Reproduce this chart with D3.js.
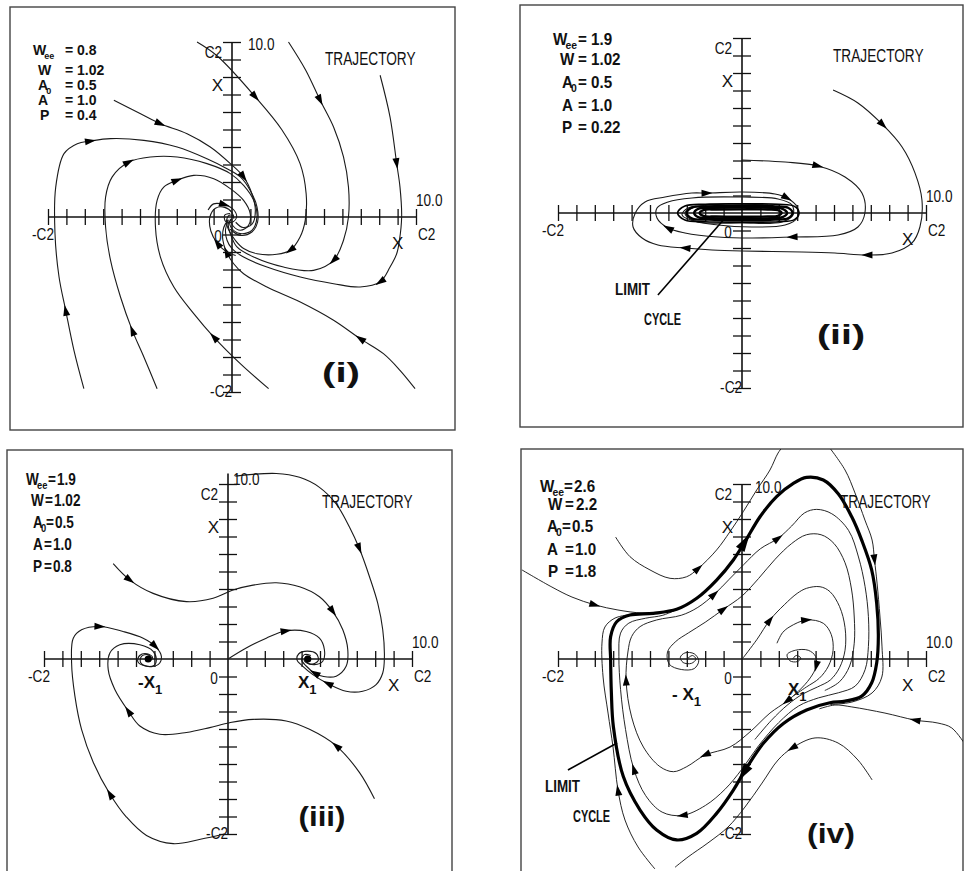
<!DOCTYPE html>
<html><head><meta charset="utf-8">
<script src="https://cdn.jsdelivr.net/npm/d3@7"></script>
<style>
html,body{margin:0;padding:0;background:#fff;}
svg{display:block;}
text{font-family:"Liberation Sans",Arial,sans-serif;fill:#111;}
</style></head><body>
<svg id="chart" width="965" height="871"></svg>
<script>
// ---- data -------------------------------------------------------------
const tickValues = d3.range(-10, 11).filter(d => d !== 0);
const axisLabels = ["10.0", "C2", "-C2", "X", "0"];
const paramNames = [["W", "ee"], ["W", ""], ["A", "0"], ["A", ""], ["P", ""]];
const paramsI = ["0.8", "1.02", "0.5", "1.0", "0.4"];
const paramsII = ["1.9", "1.02", "0.5", "1.0", "0.22"];
const paramsIII = ["1.9", "1.02", "0.5", "1.0", "0.8"];
const paramsIV = ["2.6", "2.2", "0.5", "1.0", "1.8"];
const panelTags = ["(i)", "(ii)", "(iii)", "(iv)"];
const trajLabel = "TRAJECTORY";
const cycleLabel = ["LIMIT", "CYCLE"];
const fociLabels = ["-X", "X"];

// (i) stable focus at the origin
const trajI = [
  {pts: [[-1.9,10.0],[-0.8,9.2],[1.27,6.86],[2.7,5.0],[3.7,3.05],[4.03,1.33],[3.98,-0.19],[3.7,-1.14],[3.16,-1.9],[2.44,-2.13],[1.36,-2.1],[0.63,-1.8],[0.18,-1.33],[-0.15,-0.8],[-0.3,-0.3],[-0.15,0.1],[0.1,0.05]], arrows: [2, 8]},
  {pts: [[3.07,10.0],[4.0,8.4],[4.79,6.67],[5.52,5.14],[6.06,3.43],[6.33,1.71],[6.33,0],[6.06,-1.33],[5.52,-2.48],[4.43,-3.05],[2.8,-2.86],[1.18,-2.29],[0.27,-1.71],[-0.09,-0.95],[-0.2,-0.4],[0,-0.1]], arrows: [2, 8]},
  {pts: [[8.05,8.1],[8.59,5.71],[8.95,3.05],[9.13,1.71],[9.22,0],[9.1,-1.33],[8.95,-2.1],[8.59,-2.86],[8.05,-3.71],[6.96,-4.0],[5.52,-3.81],[3.71,-3.43],[1.9,-2.86],[0.63,-2.29],[0,-1.81],[-0.27,-1.33],[-0.35,-0.7],[-0.2,-0.2]], arrows: [2, 8]},
  {pts: [[9.95,-9.81],[9.13,-8.76],[8.23,-7.81],[6.96,-6.95],[5.52,-5.9],[3.71,-4.86],[1.9,-4.0],[0.63,-3.24],[0.09,-2.67],[-0.3,-2.0],[-0.5,-1.3],[-0.45,-0.6],[-0.2,-0.15]], arrows: [3, 9]},
  {pts: [[1.99,-9.81],[0.45,-8.38],[-0.99,-6.86],[-2.08,-5.52],[-3.16,-4.0],[-3.89,-2.29],[-4.16,-0.57],[-4.07,0.95],[-3.71,1.71],[-2.98,2.1],[-2.08,2.38],[-0.99,2.19],[-0.09,1.62],[0.63,0.95],[0.99,0.19],[0.9,-0.48],[0.45,-0.76],[0.05,-0.5],[-0.1,-0.1]], arrows: [2, 9]},
  {pts: [[-4.07,-9.81],[-4.79,-8.0],[-5.42,-6.48],[-6.06,-4.57],[-6.6,-2.48],[-6.87,-0.57],[-6.87,1.14],[-6.51,2.29],[-5.61,3.14],[-4.43,3.43],[-2.98,3.43],[-1.36,3.05],[-0.09,2.48],[0.63,1.81],[1.18,0.95],[1.36,0],[1.08,-0.76],[0.45,-0.95],[-0.05,-0.6],[-0.15,-0.2]], arrows: [2, 8]},
  {pts: [[-8.05,-9.81],[-8.59,-7.62],[-9.04,-5.33],[-9.4,-3.43],[-9.62,-0.95],[-9.58,1.71],[-9.13,3.62],[-8.41,4.19],[-7.69,4.34],[-6.6,4.48],[-4.79,4.38],[-2.98,4.0],[-1.36,3.33],[-0.27,2.76],[0.45,2.29],[0.99,1.52],[1.36,0.57],[1.39,-0.29],[1.08,-0.86],[0.45,-1.05],[-0.1,-0.7]], arrows: [2, 8]},
  {pts: [[-6.42,6.67],[-4.97,5.9],[-3.89,5.33],[-2.44,4.76],[-1.18,4.0],[-0.09,3.05],[0.63,2.29],[1.08,1.33],[1.27,0.38],[1.1,-0.4],[0.6,-0.6],[0.2,-0.3]], arrows: [2, 6]},
  {pts: [[-1.3,0.4],[-1.0,0.75],[-0.4,0.7],[0.1,0.4],[0.25,0.0],[0.0,-0.3],[-0.35,-0.25],[-0.4,0.1],[-0.1,0.2]], arrows: [2]},
  {pts: [[0.2,-2.2],[-0.35,-1.95],[-0.8,-1.5],[-1.15,-0.8],[-1.2,0],[-0.9,0.5],[-0.4,0.55],[0,0.25],[0.1,-0.1]], arrows: [2]}
];

// (ii) trajectories winding onto a flat limit cycle
const trajII = [
  {pts: [[4.95,7.03],[6.3,6.29],[7.66,5.03],[8.7,3.77],[9.4,2.29],[9.78,0.74],[9.67,-0.8],[9.24,-1.71],[8.15,-2.29],[6.79,-2.4],[5.05,-2.29],[3.26,-2.23],[0,-2.17],[-1.63,-2.11],[-3.1,-2.0],[-4.57,-1.83],[-5.43,-1.43],[-5.92,-0.8],[-5.8,0],[-5.27,0.63],[-4.18,0.91],[-2.72,1.14],[-1.9,1.14],[0,1.2],[1.79,1.09],[2.45,0.86],[3.0,0.34],[3.0,-0.29],[2.34,-0.69],[0.54,-0.8],[-1.3,-0.69],[-2.72,-0.4],[-3.1,0],[-2.55,0.34],[-0.92,0.51],[1.41,0.46]], arrows: [2, 9, 14, 22, 25]},
  {pts: [[0,3.03],[2.34,2.91],[4.13,2.69],[5.6,2.06],[6.52,1.14],[6.68,0],[6.3,-0.8],[5.22,-1.26],[2.72,-1.37],[0.54,-1.43],[-1.3,-1.37],[-3.1,-1.14],[-4.02,-0.86],[-4.62,-0.29],[-4.62,0.29],[-4.02,0.63],[-2.72,0.86],[0,0.91],[1.96,0.8],[2.72,0.46],[2.77,-0.11],[2.17,-0.51],[0,-0.57],[-2.39,-0.51],[-3.26,-0.11],[-2.93,0.29],[-1.3,0.4],[1.0,0.38]], arrows: [2, 8, 12]}
];
const cycleII = [
  [[-3.5,0],[-3.1,0.4],[-2.0,0.5],[0,0.52],[2.0,0.5],[2.85,0.38],[3.1,0],[2.85,-0.38],[2.0,-0.5],[0,-0.52],[-2.0,-0.5],[-3.1,-0.4]],
  [[-3.0,0],[-2.7,0.32],[-1.8,0.38],[0,0.4],[1.8,0.38],[2.5,0.3],[2.75,0],[2.5,-0.3],[1.8,-0.38],[0,-0.4],[-1.8,-0.38],[-2.7,-0.32]],
  [[-2.6,0],[-2.35,0.25],[-1.6,0.3],[0,0.31],[1.6,0.3],[2.2,0.24],[2.45,0],[2.2,-0.24],[1.6,-0.3],[0,-0.31],[-1.6,-0.3],[-2.35,-0.25]],
  [[-2.3,0],[-2.1,0.17],[-1.4,0.2],[0,0.21],[1.4,0.2],[1.95,0.16],[2.15,0],[1.95,-0.16],[1.4,-0.2],[0,-0.21],[-1.4,-0.2],[-2.1,-0.17]]
];

// (iii) two stable foci at -X1 and X1
const fociIII = [[-4.34, 0], [4.34, 0]];
const trajIII = [
  {pts: [[0.4,10.45],[2.62,10.6],[3.89,10.38],[4.97,9.81],[5.88,8.86],[6.6,7.54],[7.14,6.31],[7.69,4.7],[8.14,3.18],[8.41,1.67],[8.5,0.15],[8.41,-0.8],[8.05,-1.46],[7.32,-1.84],[6.42,-1.84],[5.42,-1.4],[4.61,-0.89],[4.07,-0.42],[3.75,-0.05],[3.85,0.3],[4.3,0.45],[4.8,0.3],[4.9,-0.1],[4.5,-0.3],[4.15,-0.1],[4.25,0.15],[4.45,0.1]], arrows: [6, 15]},
  {pts: [[-6.24,5.45],[-5.33,4.51],[-4.07,3.75],[-2.26,3.28],[-0.81,3.47],[0.27,3.94],[1.36,4.22],[2.62,4.36],[3.89,4.13],[4.97,3.56],[5.7,2.71],[6.24,1.67],[6.51,0.53],[6.42,-0.42],[5.88,-0.98],[5.2,-1.0],[4.7,-0.8],[4.25,-0.4],[4.0,-0.05],[4.15,0.25],[4.5,0.2]], arrows: [1, 10, 16]},
  {pts: [[0,0],[0.99,0.63],[2.08,1.19],[3.16,1.61],[4.25,1.57],[4.97,1.19],[5.24,0.53],[5.15,-0.13],[4.7,-0.32],[4.3,-0.2],[4.2,0.05]], arrows: [3]},
  {pts: [[-0.2,-10.0],[-1.5,-10.3],[-2.98,-10.55],[-4.43,-10.08],[-5.52,-9.03],[-6.42,-7.71],[-7.32,-5.91],[-7.96,-4.02],[-8.32,-2.12],[-8.5,-0.23],[-8.41,1.19],[-7.96,1.67],[-6.96,1.86],[-5.7,1.57],[-4.61,1.19],[-3.95,0.72],[-3.62,0.15],[-3.8,-0.32],[-4.34,-0.42],[-4.75,-0.2],[-4.7,0.15],[-4.35,0.25],[-4.15,0.05]], arrows: [5, 12, 15]},
  {pts: [[7.96,-7.99],[7.14,-6.48],[5.88,-4.96],[4.43,-4.02],[3.16,-3.54],[1.36,-3.45],[0.09,-3.64],[-0.99,-3.92],[-2.26,-4.2],[-3.71,-4.3],[-4.79,-3.83],[-5.42,-2.97],[-6.15,-1.74],[-6.51,-0.61],[-6.42,0.34],[-5.88,0.81],[-4.79,0.81],[-4.07,0.44],[-3.89,-0.04],[-4.0,-0.35],[-4.5,-0.4],[-4.9,-0.15],[-4.8,0.2],[-4.4,0.3],[-4.1,0.1],[-4.25,-0.1],[-4.45,0]], arrows: [2, 11]}
];

// (iv) unstable foci inside a large limit cycle
const cycleIV = [[-7.14,-0.04],[-7.14,1.28],[-6.81,2.13],[-6.09,2.51],[-4.82,2.61],[-3.55,2.84],[-2.46,3.47],[-1.38,4.51],[-0.47,5.66],[0.16,6.7],[0.98,8.13],[1.88,9.28],[2.79,10.04],[3.51,10.38],[4.42,10.23],[5.24,9.43],[5.97,8.11],[6.51,6.78],[7.05,5.08],[7.32,3.18],[7.41,1.29],[7.32,-0.23],[7.05,-1.36],[6.51,-2.12],[5.61,-2.41],[4.78,-2.5],[3.51,-2.91],[2.25,-3.68],[1.16,-4.82],[0.07,-6.53],[-0.47,-7.49],[-1.38,-8.82],[-2.46,-9.96],[-3.55,-10.34],[-4.64,-9.77],[-5.54,-8.63],[-6.45,-6.72],[-6.99,-3.87],[-7.1,-1.9]];
const cycleIVArrows = [9, 29];
const trajIV = [
  {pts: [[-11.96,5.09],[-10.33,4.11],[-9.24,3.54],[-7.99,3.09],[-6.74,2.8],[-5.43,2.63],[-4.3,2.7]], arrows: [3]},
  {pts: [[-6.87,6.97],[-6.09,5.85],[-5.0,5.09],[-3.91,4.61],[-3.01,4.7],[-2.37,5.18],[-1.38,6.23],[-0.65,7.28],[0.07,8.42],[0.8,9.66],[1.52,10.8],[1.96,11.77],[2.34,12.3]], arrows: [5]},
  {pts: [[4.67,12.2],[5.6,10.8],[6.14,9.49],[6.68,7.94],[7.07,6.8],[7.2,5.66],[7.34,4.34],[7.5,2.4],[7.61,0.69],[7.6,-1.03],[7.07,-1.94],[5.97,-2.46],[4.8,-2.6]], arrows: [5]},
  {pts: [[12.2,-5.0],[11.4,-3.94],[10.65,-3.66],[9.4,-3.49],[7.77,-3.09],[5.97,-2.74],[5.05,-2.63],[4.2,-2.85]], arrows: [3]},
  {pts: [[7.07,-6.91],[6.3,-5.77],[5.22,-4.8],[3.97,-4.51],[2.72,-5.09],[1.96,-5.77],[1.09,-7.09],[0.16,-8.46],[-0.76,-9.6],[-1.85,-10.51],[-2.93,-11.31],[-3.64,-11.9]], arrows: [4]},
  {pts: [[-4.73,-12.0],[-5.65,-10.74],[-6.36,-9.2],[-6.74,-7.49],[-7.01,-5.03],[-7.28,-3.09],[-7.55,-1.03],[-7.61,0.91],[-7.45,1.83],[-6.9,2.34],[-6.0,2.55]], arrows: [3]},
  {pts: [[2.75,0.0],[2.95,0.2],[3.2,0.05],[3.0,-0.15],[2.6,-0.1],[2.45,0.25],[2.9,0.5],[3.6,0.5],[4.0,0.15],[4.03,-0.42],[3.71,-1.08],[3.07,-1.84],[2.44,-2.41],[1.52,-3.09],[0.43,-4.17],[-0.65,-5.03],[-2.01,-5.49],[-3.0,-6.15],[-3.73,-6.44],[-4.46,-6.15],[-5.36,-5.03],[-6.0,-3.31],[-6.3,-1.2],[-6.2,0.4],[-6.0,1.28],[-5.54,1.85],[-4.64,2.23],[-3.3,2.5],[-2.4,2.95],[-1.5,3.7],[-0.7,4.55],[0.1,5.4],[1.0,6.3],[1.97,6.9],[2.7,7.6],[3.4,8.35],[4.06,8.55],[4.88,8.3],[5.79,7.35],[6.33,5.83],[6.69,4.13],[6.87,2.42],[6.87,0.72],[6.69,-0.61],[6.15,-1.55],[5.24,-1.93],[4.16,-2.22],[3.07,-2.69],[1.99,-3.64],[0.9,-4.96],[0,-6.29],[-0.9,-7.42],[-1.99,-8.37],[-3.25,-8.94],[-4.34,-8.75],[-5.24,-7.8],[-5.88,-6.29],[-6.33,-4.02],[-6.6,-1.74],[-6.69,0.15],[-6.6,1.48],[-6.15,2.05],[-5.24,2.33],[-4.3,2.5],[-3.3,2.95]], arrows: [9, 12, 16, 22, 29, 33, 53, 56]},
  {pts: [[-2.98,0.0],[-2.7,0.2],[-2.5,0.0],[-2.75,-0.25],[-3.2,-0.2],[-3.35,0.1],[-3.1,0.35],[-2.6,0.3],[-2.35,-0.1],[-2.6,-0.55],[-3.3,-0.6],[-3.95,-0.3],[-4.05,0.4],[-3.6,1.0],[-2.9,1.5],[-2.0,2.1],[-1.0,2.85],[0,3.6],[0.9,4.6],[1.8,5.7],[2.7,6.6],[3.5,7.1],[4.3,7.1],[5.0,6.6],[5.6,5.5],[5.95,4.0],[6.1,2.4],[6.1,0.9],[5.85,-0.4],[5.3,-1.3],[4.5,-1.8]], arrows: [16]},
  {pts: [[0.05,0.05],[0.8,1.1],[1.52,2.23],[2.3,3.1],[3.0,3.75],[3.51,4.04],[4.24,4.13],[4.78,3.85],[5.3,3.0],[5.6,1.8],[5.6,0.5],[5.3,-0.5],[4.8,-1.2],[4.1,-1.6],[3.3,-2.0],[2.5,-2.6],[1.6,-3.5],[0.7,-4.6]], arrows: [2]},
  {pts: [[1.9,0.9],[2.2,1.5],[2.61,1.85],[3.51,2.23],[4.42,2.04],[4.85,1.4],[4.95,0.5],[4.7,-0.4],[4.2,-1.1],[3.5,-1.6],[2.8,-2.1]], arrows: [3]}
];

// ---- layout -----------------------------------------------------------
const svg = d3.select("#chart");
const HALF_X = 184, HALF_Y = 175;

const panels = [
  {ox: 232, oy: 217, frame: [10, 7, 445, 423], top: 10, top10: [16, 8], params: paramsI, sx: 1.0, fs: 14,
   nameX: [33, 38, 38, 38, 40], eqX: [65, 65, 65, 65, 65], valX: [77, 77, 77, 77, 77], base: [55, 75, 90, 105, 120],
   trajPos: [325, 65], tag: [341, 382, 38], traj: trajI, lineW: 1.1},
  {ox: 742, oy: 213, frame: [520, 5, 443, 422], top: 10, top10: null, params: paramsII, sx: 0.95, fs: 16,
   nameX: [553, 560, 562, 562, 562], eqX: [578, 578, 578, 578, 578], valX: [591, 591, 591, 591, 591], base: [45, 65, 88, 111, 133],
   trajPos: [833, 62], tag: [841, 344, 48], traj: trajII, lineW: 1.1},
  {ox: 228, oy: 659, frame: [7, 450, 445, 430], top: 10.6, top10: [5, 1], params: paramsIII, sx: 0.85, fs: 16,
   nameX: [26, 31, 33, 33, 33], eqX: [48, 45, 46, 44, 44], valX: [57, 54, 55, 53, 53], base: [485, 506, 528, 550, 572],
   trajPos: [322, 508], tag: [322, 826, 47], traj: trajIII, lineW: 1.1},
  {ox: 742, oy: 659, frame: [521, 449, 442, 430], top: 10, top10: [13, 9], params: paramsIV, sx: 0.95, fs: 16,
   nameX: [540, 548, 547, 547, 548], eqX: [564, 565, 562, 565, 565], valX: [574, 576, 572, 575, 575], base: [492, 510, 532, 555, 577],
   trajPos: [840, 508], tag: [831, 843, 48], traj: trajIV, lineW: 0.95}
];

function txt(g, x, y, s, o = {}) {
  const t = g.append("text")
    .attr("transform", `translate(${x},${y}) scale(${o.sx || 1},1)`)
    .attr("font-size", o.size || 17)
    .attr("font-weight", o.weight || 400)
    .attr("text-anchor", o.anchor || "start")
    .text(s);
  if (o.len) t.attr("textLength", o.len).attr("lengthAdjust", "spacingAndGlyphs");
  return t;
}

function arrowHead(g, pts, i, closed, xs, ys, L, W) {
  const n = pts.length;
  const ia = closed ? (i - 1 + n) % n : Math.max(0, i - 1);
  const ic = closed ? (i + 1) % n : Math.min(n - 1, i + 1);
  const a = pts[ia], b = pts[i], c = pts[ic];
  const ang = Math.atan2(ys(c[1]) - ys(a[1]), xs(c[0]) - xs(a[0])) * 180 / Math.PI;
  g.append("path")
    .attr("d", `M${L / 2},0L${-L / 2},${-W / 2}L${-L / 2},${W / 2}Z`)
    .attr("transform", `translate(${xs(b[0])},${ys(b[1])}) rotate(${ang})`)
    .attr("fill", "#000");
}

panels.forEach((p, k) => {
  const g = svg.append("g");
  const [fx, fy, fw, fh] = p.frame;
  const xs = d3.scaleLinear().domain([-10, 10]).range([p.ox - HALF_X, p.ox + HALF_X]);
  const ys = d3.scaleLinear().domain([-10, 10]).range([p.oy + HALF_Y, p.oy - HALF_Y]);

  g.append("clipPath").attr("id", "clip" + k)
    .append("rect").attr("x", fx).attr("y", fy).attr("width", fw).attr("height", fh);

  g.append("rect").attr("x", fx).attr("y", fy).attr("width", fw).attr("height", fh)
    .attr("fill", "none").attr("stroke", "#444").attr("stroke-width", 1.4);

  // axes with crossing ticks
  g.append("line").attr("x1", xs(-10)).attr("x2", xs(10)).attr("y1", ys(0)).attr("y2", ys(0))
    .attr("stroke", "#111").attr("stroke-width", 1.6);
  g.append("line").attr("x1", xs(0)).attr("x2", xs(0)).attr("y1", ys(-10)).attr("y2", ys(p.top))
    .attr("stroke", "#111").attr("stroke-width", 1.6);
  const ax = g.append("g").attr("transform", `translate(0,${ys(0) - 8})`)
    .call(d3.axisBottom(xs).tickValues(tickValues).tickSize(16).tickFormat(""));
  const ay = g.append("g").attr("transform", `translate(${xs(0) - 9},0)`)
    .call(d3.axisRight(ys).tickValues(tickValues).tickSize(18).tickFormat(""));
  [ax, ay].forEach(a => {
    a.select(".domain").remove();
    a.selectAll(".tick line").attr("stroke", "#111").attr("stroke-width", 1.3);
  });

  const plot = g.append("g").attr("clip-path", `url(#clip${k})`);
  const line = d3.line().x(d => xs(d[0])).y(d => ys(d[1])).curve(d3.curveCatmullRom.alpha(0.5));
  const closedLine = d3.line().x(d => xs(d[0])).y(d => ys(d[1])).curve(d3.curveCatmullRomClosed.alpha(0.5));

  p.traj.forEach(t => {
    plot.append("path").attr("d", line(t.pts)).attr("fill", "none")
      .attr("stroke", "#1a1a1a").attr("stroke-width", p.lineW);
    t.arrows.forEach(i => arrowHead(plot, t.pts, i, false, xs, ys, 11, 7));
  });

  if (k === 1) {
    cycleII.forEach((c, j) => {
      plot.append("path").attr("d", closedLine(c)).attr("fill", "none")
        .attr("stroke", "#000").attr("stroke-width", j === 0 ? 1.6 : 2.4);
    });
  }
  if (k === 2) {
    fociIII.forEach(f => plot.append("circle").attr("cx", xs(f[0])).attr("cy", ys(f[1]))
      .attr("r", 3.5).attr("fill", "#000"));
  }
  if (k === 3) {
    plot.append("path").attr("d", closedLine(cycleIV)).attr("fill", "none")
      .attr("stroke", "#000").attr("stroke-width", 3.2);
    cycleIVArrows.forEach(i => arrowHead(plot, cycleIV, i, true, xs, ys, 18, 10));
  }

  // axis labels
  const opt = {size: 17, sx: 0.8};
  txt(g, xs(10), ys(0) - 11, axisLabels[0], opt);
  txt(g, xs(10) + 2, ys(0) + 23, axisLabels[1], opt);
  txt(g, xs(-10) - 5, ys(0) + 23, axisLabels[2], {...opt, anchor: "middle"});
  txt(g, xs(0) - 10, ys(10) + 16, axisLabels[1], {...opt, anchor: "end"});
  if (p.top10) txt(g, xs(0) + p.top10[0], ys(10) + p.top10[1], axisLabels[0], opt);
  txt(g, xs(0), ys(-10) + 5, axisLabels[2], {...opt, anchor: "end"});
  txt(g, xs(0) - 9, ys(7.2), axisLabels[3], {size: 17, anchor: "end"});
  txt(g, xs(9), ys(0) + 32, axisLabels[3], {size: 17, anchor: "middle"});
  txt(g, xs(0) - 14, ys(0) + 25, axisLabels[4], {...opt, anchor: "middle"});

  // parameter block: one text per line, subscript tucked under the letter
  const SX = p.sx;
  paramNames.forEach((nm, i) => {
    const t = g.append("text")
      .attr("transform", `translate(${p.nameX[i]},${p.base[i]}) scale(${SX},1)`)
      .attr("font-size", p.fs).attr("font-weight", 700);
    t.append("tspan").text(nm[0]);
    if (nm[1]) t.append("tspan").attr("dx", -2).attr("dy", 4).attr("font-size", p.fs - 5).text(nm[1]);
    t.append("tspan").attr("x", (p.eqX[i] - p.nameX[i]) / SX).attr("y", 0).text("=");
    t.append("tspan").attr("x", (p.valX[i] - p.nameX[i]) / SX).attr("y", 0).text(p.params[i]);
  });

  txt(g, p.trajPos[0], p.trajPos[1], trajLabel, {size: 18, sx: 0.76});
  txt(g, p.tag[0], p.tag[1], panelTags[k], {size: 28, weight: 700, anchor: "middle", len: p.tag[2]});
});

// limit-cycle pointers and foci labels
function pointer(k, from, to) {
  const p = panels[k];
  const xs = d3.scaleLinear().domain([-10, 10]).range([p.ox - HALF_X, p.ox + HALF_X]);
  const ys = d3.scaleLinear().domain([-10, 10]).range([p.oy + HALF_Y, p.oy - HALF_Y]);
  svg.append("line").attr("x1", xs(from[0])).attr("y1", ys(from[1]))
    .attr("x2", xs(to[0])).attr("y2", ys(to[1])).attr("stroke", "#000").attr("stroke-width", 1.6);
}
pointer(1, [-4.57, -4.69], [-0.92, -0.29]);
pointer(3, [-9.46, -6.34], [-6.79, -4.8]);
txt(svg, 615, 295, cycleLabel[0], {size: 16, weight: 700, len: 35});
txt(svg, 644, 325, cycleLabel[1], {size: 16, weight: 700, len: 37});
txt(svg, 545, 792, cycleLabel[0], {size: 16, weight: 700, len: 35});
txt(svg, 573, 822, cycleLabel[1], {size: 16, weight: 700, len: 37});

function focusLabel(x, y, s) {
  const t = svg.append("text").attr("x", x).attr("y", y)
    .attr("font-size", 17).attr("font-weight", 700);
  t.append("tspan").text(s);
  t.append("tspan").attr("dy", 6).attr("font-size", 13).text("1");
}
focusLabel(138, 688, fociLabels[0]);
focusLabel(298, 688, fociLabels[1]);
focusLabel(672, 700, "- " + fociLabels[1]);
focusLabel(788, 695, fociLabels[1]);
</script></body></html>
